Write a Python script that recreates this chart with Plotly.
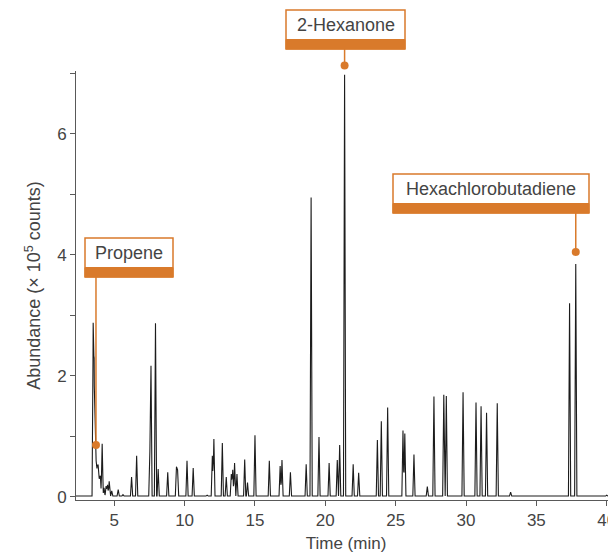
import plotly.graph_objects as go

# ---------------- data ----------------
peak_times = [3.50, 3.57, 3.63, 3.70, 3.78, 3.85, 3.93, 4.01, 4.14, 4.27, 4.42, 4.52, 4.64, 4.82,
              5.28, 5.62, 6.23, 6.59, 7.53, 7.61, 7.93, 8.12, 8.80, 9.42, 9.50, 10.17, 10.61,
              11.60, 11.97, 12.08, 12.68, 12.96, 13.32, 13.42, 13.55, 13.72, 14.27, 14.47, 15.00,
              16.02, 16.79, 16.92, 17.52, 18.64, 18.99, 19.55, 20.27, 20.85, 21.02, 21.37,
              21.98, 22.37, 23.70, 23.98, 24.43, 25.52, 25.65, 26.30, 27.25, 27.72, 28.42,
              28.60, 29.79, 30.71, 31.07, 31.46, 32.22, 33.17, 34.30, 37.36, 37.80, 40.00]
peak_heights = [2.66, 1.78, 0.75, 0.62, 0.45, 0.48, 0.30, 0.35, 0.88, 0.15, 0.18, 0.20, 0.26, 0.10,
                0.12, 0.04, 0.33, 0.68, 0.75, 2.17, 2.87, 0.46, 0.41, 0.50, 0.45, 0.60, 0.48,
                0.03, 0.68, 0.96, 0.89, 0.33, 0.38, 0.45, 0.56, 0.38, 0.62, 0.24, 1.02,
                0.60, 0.51, 0.61, 0.41, 0.54, 4.95, 0.99, 0.56, 0.61, 0.86, 6.98,
                0.54, 0.40, 0.94, 1.25, 1.48, 1.10, 1.05, 0.70, 0.17, 1.66, 1.69,
                1.67, 1.73, 1.56, 1.50, 1.39, 1.55, 0.08, 0.02, 3.20, 3.85, 0.03]
baseline_level = 0.015
peak_half_width = 0.08

label_names = ["Propene", "2-Hexanone", "Hexachlorobutadiene"]
label_times = [3.70, 21.37, 37.80]
label_values = [0.86, 7.13, 4.05]

x_range = [2.28, 40.66]
y_range = [-0.05, 7.04]
x_tick_vals = [5, 10, 15, 20, 25, 30, 35, 40]

# ---------------- style / layout ----------------
# the page body has an 8px margin, so the figure is drawn 8px in from the window corner
OFF = 8
W, H = 616 - OFF, 553 - OFF
ML, MR, MT, MB = 76 - OFF, 0, 71 - OFF, 53
PW, PH = W - ML - MR, H - MT - MB
ORANGE = "#D97A2B"
TEXT = "#444444"
AXIS = "#595959"
FONT = "Liberation Sans, Arial, sans-serif"
DOT_R = 4

# label boxes in window-pixel geometry: (left, right, top, bottom), band height
boxes_px = [(85, 173, 238, 277), (286, 405, 10, 49), (393, 589, 174, 213)]
band_px = 9.5

# ---------------- chromatogram trace ----------------
verts = {x_range[0], x_range[1]}
for t in peak_times:
    verts.update([t - peak_half_width, t, t + peak_half_width])
xs = sorted(v for v in verts if x_range[0] <= v <= x_range[1])
ys = []
for x in xs:
    v = baseline_level
    for t, h in zip(peak_times, peak_heights):
        d = abs(x - t)
        if d < peak_half_width:
            v += (h - baseline_level) * (1 - d / peak_half_width)
    ys.append(v)

fig = go.Figure()
fig.add_trace(go.Scatter(x=xs, y=ys, mode="lines",
                         line=dict(color="#1c1c1c", width=1.1), hoverinfo="skip",
                         showlegend=False))


def xp(px):
    return (px - OFF - ML) / PW


def yp(py):
    return (H - MB - (py - OFF)) / PH


def x_data_to_paper(t):
    return (t - x_range[0]) / (x_range[1] - x_range[0])


def y_data_to_paper(v):
    return (v - y_range[0]) / (y_range[1] - y_range[0])


shapes = []
annotations = []
for name, t, v, (l, r, top, bot) in zip(label_names, label_times, label_values, boxes_px):
    xt, yv = x_data_to_paper(t), y_data_to_paper(v)
    shapes.append(dict(type="line", xref="paper", yref="paper",
                       x0=xt, x1=xt, y0=yp(bot), y1=yv,
                       line=dict(color=ORANGE, width=1.5)))
    shapes.append(dict(type="circle", xref="paper", yref="paper",
                       xsizemode="pixel", ysizemode="pixel", xanchor=xt, yanchor=yv,
                       x0=-DOT_R, x1=DOT_R, y0=-DOT_R, y1=DOT_R,
                       fillcolor=ORANGE, line=dict(color=ORANGE, width=0)))
    shapes.append(dict(type="rect", xref="paper", yref="paper",
                       x0=xp(l), x1=xp(r), y0=yp(bot), y1=yp(top),
                       fillcolor="white", line=dict(color=ORANGE, width=1.5)))
    shapes.append(dict(type="rect", xref="paper", yref="paper",
                       x0=xp(l), x1=xp(r), y0=yp(bot), y1=yp(bot - band_px),
                       fillcolor=ORANGE, line=dict(color=ORANGE, width=1)))
    annotations.append(dict(text=name, xref="paper", yref="paper",
                            x=xp((l + r) / 2), y=yp((top + bot - band_px) / 2),
                            xanchor="center", yanchor="middle", showarrow=False,
                            font=dict(family=FONT, size=18, color=TEXT)))

fig.update_layout(
    width=W, height=H,
    margin=dict(l=ML, r=MR, t=MT, b=MB, autoexpand=False),
    paper_bgcolor="white", plot_bgcolor="white",
    font=dict(family=FONT, size=17, color=TEXT),
    shapes=shapes, annotations=annotations,
    showlegend=False,
)
fig.update_xaxes(range=x_range, tickvals=x_tick_vals, ticks="outside", ticklen=5,
                 tickcolor=AXIS, showline=True, linecolor=AXIS, linewidth=1,
                 showgrid=False, zeroline=False, automargin=False,
                 ticklabeloverflow="allow",
                 tickfont=dict(family=FONT, size=17, color=TEXT),
                 title=dict(text="Time (min)", standoff=8,
                            font=dict(family=FONT, size=17, color=TEXT)))
fig.update_yaxes(range=y_range, tick0=0, dtick=2, ticks="outside", ticklen=5,
                 tickcolor=AXIS, showline=True, linecolor=AXIS, linewidth=1,
                 showgrid=False, zeroline=False, automargin=False,
                 minor=dict(dtick=1, tick0=0, ticks="outside", ticklen=5, tickcolor=AXIS),
                 tickfont=dict(family=FONT, size=17, color=TEXT),
                 title=dict(text="Abundance (× 10<sup>5</sup> counts)", standoff=11,
                            font=dict(family=FONT, size=18, color=TEXT)))

fig.write_html("out.html")
